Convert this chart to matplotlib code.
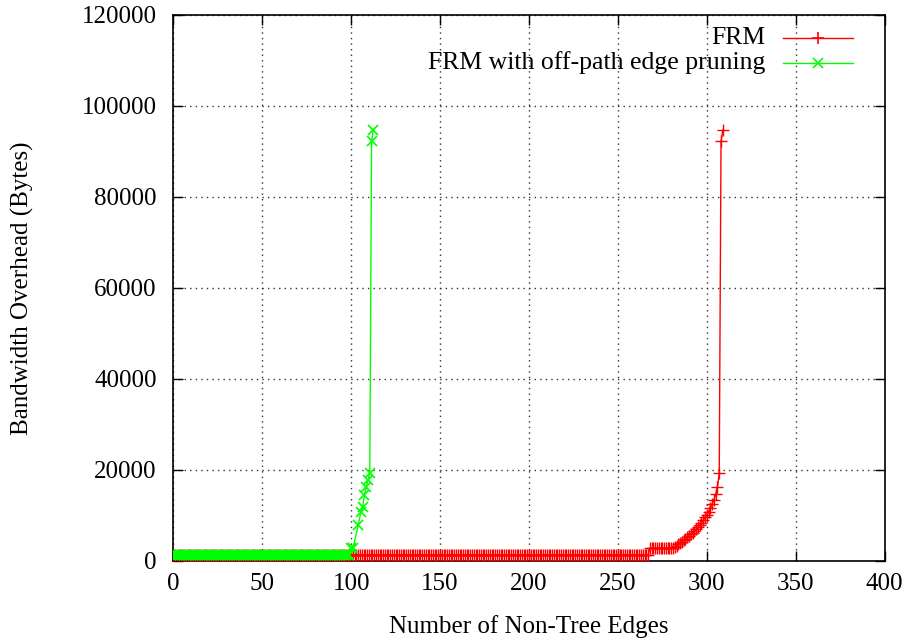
import matplotlib
matplotlib.use("Agg")
import matplotlib.pyplot as plt
from matplotlib.lines import Line2D

# ---- data ----
# FRM (red): integer x from 0 to 309
frm_flat1 = [1250] * 268            # x = 0..267
frm_flat2 = [2720] * 14             # x = 268..281
frm_rise = [3000, 3300, 3600, 3900, 4200, 4500, 4800, 5200, 5500, 5800,
            6100, 6500, 6900, 7300, 7800, 8300, 8900, 9500, 10100, 10700,
            11500, 12400, 13400, 14600, 16200, 19200]   # x = 282..307
frm_top = [92200, 94700]            # x = 308..309
frm_y = frm_flat1 + frm_flat2 + frm_rise + frm_top
frm_x = list(range(len(frm_y)))

# FRM with off-path edge pruning (green)
prune_flat_x = list(range(0, 100))
prune_flat_y = [1250] * 100
prune_tail_x = [100, 101, 104, 105.5, 106.5, 107.5, 108.5, 109.5, 110.5, 111.5, 112.5]
prune_tail_y = [2720, 2720, 7800, 10800, 11900, 14400, 16300, 17700, 19200, 92300, 94700]
prune_x = prune_flat_x + prune_tail_x
prune_y = prune_flat_y + prune_tail_y

xticks = [0, 50, 100, 150, 200, 250, 300, 350, 400]
yticks = [0, 20000, 40000, 60000, 80000, 100000, 120000]
labels = ["FRM", "FRM with off-path edge pruning"]

plt.rcParams['font.family'] = ['Liberation Serif', 'DejaVu Serif']
FS = 18
plt.rcParams['font.size'] = FS

fig = plt.figure(figsize=(9.12, 6.41), dpi=100)
ax = fig.add_axes([0.19, 0.1253, 0.78, 0.8513])

RED = '#ff0000'
GREEN = '#00ff00'
ax.plot(frm_x, frm_y, color=RED, lw=1, marker='+', ms=9, mew=1, zorder=3)
ax.plot(prune_x, prune_y, color=GREEN, lw=1, marker='x', ms=7, mew=1.2, zorder=4)

ax.set_xlim(0, 400)
ax.set_ylim(0, 120000)
ax.set_xticks(xticks)
ax.set_yticks(yticks)
ax.set_xticklabels([str(t) for t in xticks])
ax.set_yticklabels([str(t) for t in yticks])
ax.tick_params(direction='in', length=7, width=1, top=True, right=True, labelsize=FS)
ax.tick_params(axis='y', pad=12)
ax.tick_params(axis='x', pad=9)
ax.grid(True, color='#333333', linestyle=(0, (1, 3)), linewidth=1)
for s in ax.spines.values():
    s.set_linewidth(1.2)

ax.set_xlabel("Number of Non-Tree Edges", fontsize=FS, labelpad=14)
ax.set_ylabel("Bandwidth Overhead (Bytes)", fontsize=FS, labelpad=34)

# legend drawn gnuplot-style (text right-aligned, sample to its right)
for label, col, mk, ty in [(labels[0], RED, '+', 0.9580), (labels[1], GREEN, 'x', 0.9125)]:
    ax.text(0.832, ty, label, ha='right', va='center', transform=ax.transAxes, fontsize=18.5)
    ax.add_line(Line2D([0.857, 0.956], [ty, ty], color=col, lw=1, transform=ax.transAxes))
    ax.add_line(Line2D([0.907], [ty], color=col, marker=mk, ms=9 if mk == '+' else 7,
                       mew=1.2, transform=ax.transAxes))

fig.savefig("out.png", dpi=100)
